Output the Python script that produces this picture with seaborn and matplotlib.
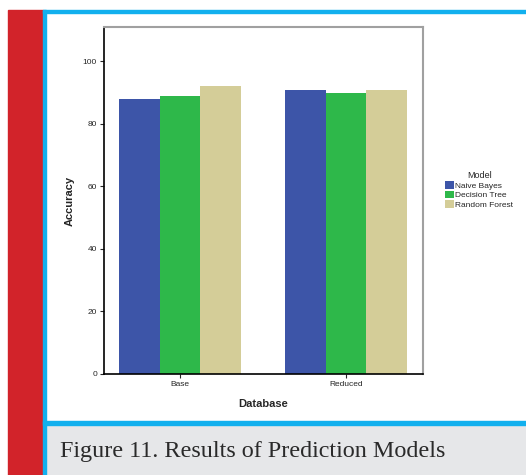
import numpy as np
import matplotlib
matplotlib.use('Agg')
import matplotlib.pyplot as plt
import pandas as pd
import seaborn as sns
from matplotlib.patches import Rectangle

databases = ['Base', 'Reduced']
models = ['Naive Bayes', 'Decision Tree', 'Random Forest']
naive_bayes = [88, 91]
decision_tree = [89, 90]
random_forest = [92, 91]
palette = ['#3d55a8', '#2eb84a', '#d4cd98']

df = pd.DataFrame({
    'Database': databases * 3,
    'Model': [m for m in models for _ in databases],
    'Accuracy': naive_bayes + decision_tree + random_forest,
})

sns.set_style('white')
plt.rcParams['font.family'] = ['Liberation Sans', 'DejaVu Sans']

W, H = 526, 475
fig = plt.figure(figsize=(W / 100, H / 100), dpi=100)


def px(x0, y0, x1, y1):
    return [x0 / W, 1 - y1 / H, (x1 - x0) / W, (y1 - y0) / H]


# page decorations
fig.patches.append(Rectangle((8 / W, 0), 35 / W, 1 - 10 / H, transform=fig.transFigure,
                             color='#d2232a', zorder=0))
fig.patches.append(Rectangle((46 / W, 0), 1, 1 - 426 / H, transform=fig.transFigure,
                             color='#e6e7e9', zorder=0))
fig.patches.append(Rectangle((43 / W, 0), 3 / W, 1 - 10 / H, transform=fig.transFigure,
                             color='#12b0ee', zorder=1))
fig.patches.append(Rectangle((43 / W, 1 - 13 / H), 1, 3 / H, transform=fig.transFigure,
                             color='#12b0ee', zorder=1))
fig.patches.append(Rectangle((43 / W, 1 - 425 / H), 1, 4 / H, transform=fig.transFigure,
                             color='#12b0ee', zorder=1))
fig.text(60 / W, 1 - 452 / H, 'Figure 11. Results of Prediction Models',
         family=['Liberation Serif', 'DejaVu Serif'], fontsize=17.4, color='#2a2a2a', va='center')

ax = fig.add_axes(px(104, 27, 423, 374))
sns.barplot(data=df, x='Database', y='Accuracy', hue='Model', hue_order=models,
            palette=palette, width=0.735, saturation=1, errorbar=None, ax=ax,
            linewidth=0, edgecolor='none')
ax.set_xlim(-0.458, 1.464)
ax.set_ylim(0, 111)
ax.set_yticks([0, 20, 40, 60, 80, 100])
ax.tick_params(axis='both', labelsize=6, length=3, width=0.8, direction='out',
               left=True, bottom=True, pad=2)
ax.set_xlabel('Database', fontsize=8, fontweight='bold', labelpad=8)
ax.set_ylabel('Accuracy', fontsize=8, fontweight='bold', labelpad=6)
for s in ['left', 'bottom']:
    ax.spines[s].set_color('black')
    ax.spines[s].set_linewidth(1.2)
for s in ['top', 'right']:
    ax.spines[s].set_color('#a0a0a0')
    ax.spines[s].set_linewidth(1.5)

leg = ax.legend(title='Model', loc='center left', bbox_to_anchor=(1.06, 0.53), frameon=False,
                fontsize=6, title_fontsize=6.5, handlelength=1.0, handleheight=1.0,
                handletextpad=0.2, labelspacing=0.1, borderaxespad=0)

fig.savefig('out.png', dpi=100)
